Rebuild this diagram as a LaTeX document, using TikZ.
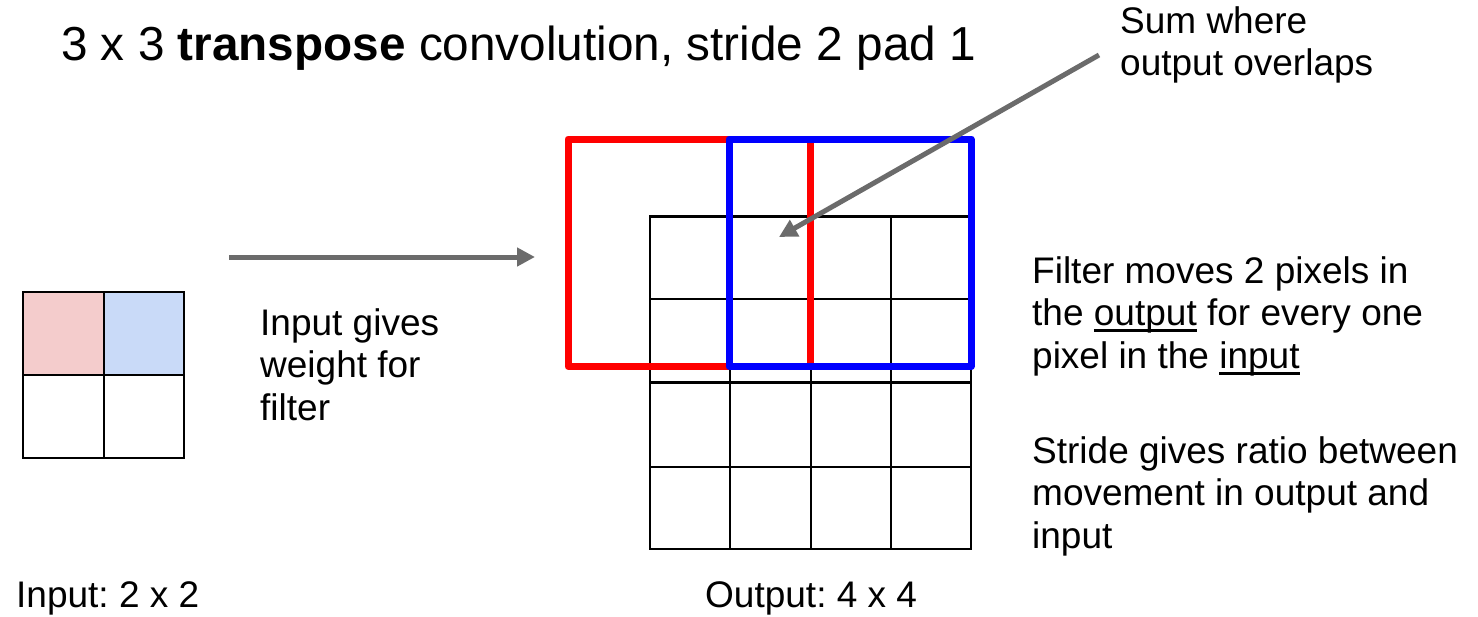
\documentclass[tikz,border=0pt]{standalone}
\usepackage{fontspec}
\setmainfont{Liberation Sans}
\usetikzlibrary{arrows.meta}
\definecolor{cellpink}{HTML}{F4CCCC}
\definecolor{cellblue}{HTML}{C9DAF8}
\definecolor{arrowgray}{HTML}{6B6B6B}
\definecolor{boxred}{HTML}{FF0000}
\definecolor{boxblue}{HTML}{0000FF}
\newcommand{\myul}[1]{\setbox0\hbox{#1}\rlap{\rule[-6.5pt]{\wd0}{3pt}}\box0\relax}
\frenchspacing
\begin{document}
\begin{tikzpicture}[x=1pt,y=-1pt,
  txt/.style={anchor=base west, inner sep=0pt, font=\fontsize{37}{43}\selectfont},
  ttl/.style={anchor=base west, inner sep=0pt, font=\fontsize{47.7}{55}\selectfont},
  ingrid/.style={line width=2.6pt, black},
  outgrid/.style={line width=2.3pt, black},
  filtbox/.style={line width=7pt, line join=round},
  garrow/.style={line width=5pt, arrowgray, -{Triangle[length=18pt,width=18pt]}}]
\useasboundingbox (0,0) rectangle (1478,616);
% input grid
\fill[cellpink] (23,292) rectangle (104,375);
\fill[cellblue] (104,292) rectangle (184,375);
\draw[ingrid] (23,292) rectangle (184,458);
\draw[ingrid] (104,292) -- (104,458);
\draw[ingrid] (23,375) -- (184,375);
% output grid
\draw[outgrid] (650,216.5) rectangle (971,549);
\foreach \x in {730,811,891} \draw[outgrid] (\x,216.5) -- (\x,549);
\foreach \y in {299,467} \draw[outgrid] (650,\y) -- (971,\y);
\draw[outgrid, line width=3pt] (650,382.5) -- (971,382.5);
% filter boxes
\draw[filtbox, boxred] (568,139) rectangle (810,366.5);
\draw[filtbox, boxblue] (729,139) rectangle (971,366.5);
% texts
\node[ttl] (title) at (61,60) {3 x 3 \textbf{transpose} convolution, stride 2 pad 1};
\node[txt] (sum1) at (1120,33) {Sum where};
\node[txt] (sum2) at (1120,75) {output overlaps};
\node[txt] (ig1) at (260,335) {Input gives};
\node[txt] (ig2) at (260,377.5) {weight for};
\node[txt] (ig3) at (260,420) {filter};
\node[txt] (fm1) at (1032,283) {Filter moves 2 pixels in};
\node[txt] (fm2) at (1032,325.5) {the \myul{output} for every one};
\node[txt] (fm3) at (1032,368) {pixel in the \myul{input}};
\node[txt] (sg1) at (1032,463) {Stride gives ratio between};
\node[txt] (sg2) at (1032,505.5) {movement in output and};
\node[txt] (sg3) at (1032,548) {input};
\node[txt] (inlab) at (16,607) {Input: 2 x 2};
\node[txt] (outlab) at (705,607) {Output: 4 x 4};
% arrows
\coordinate (a1s) at (229,257);
\coordinate (a1e) at (535,257);
\coordinate (a2s) at (1099,55);
\coordinate (a2e) at (779,237);
\draw[garrow] (a1s) -- (a1e);
\draw[garrow] (a2s) -- (a2e);
\end{tikzpicture}
\end{document}
